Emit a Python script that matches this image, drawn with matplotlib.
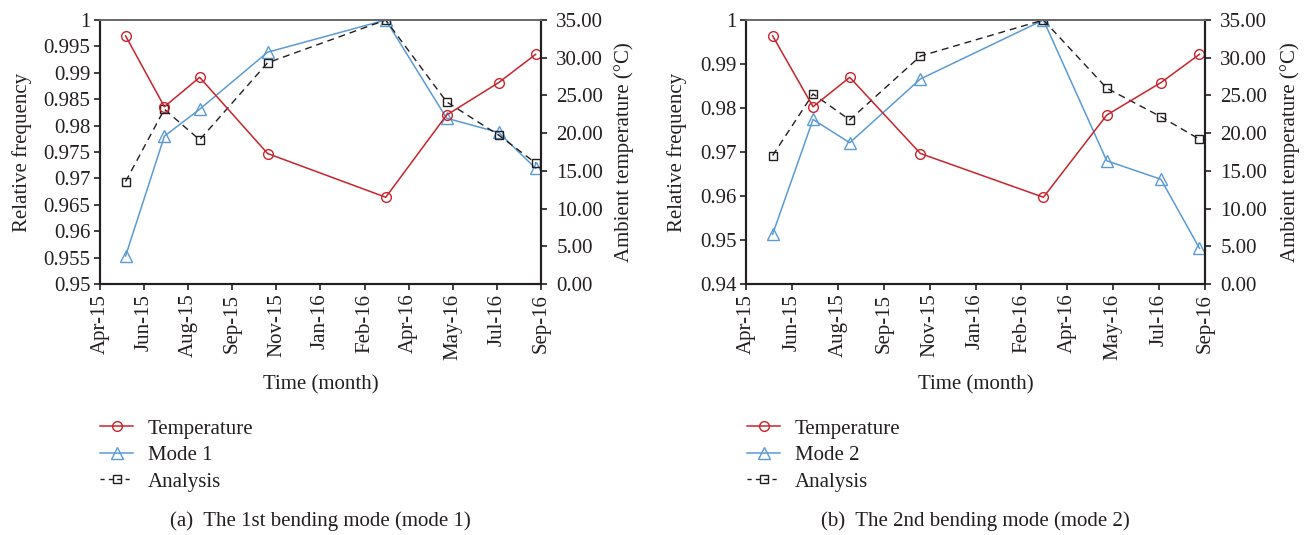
import datetime as dt
import matplotlib
matplotlib.use("Agg")
import matplotlib.pyplot as plt
import matplotlib.dates as mdates
from matplotlib.lines import Line2D
from matplotlib.ticker import FixedLocator, FuncFormatter

# ---- data -------------------------------------------------------------
dates = [dt.date(2015, 5, 25), dt.date(2015, 7, 8), dt.date(2015, 8, 17),
         dt.date(2015, 11, 2), dt.date(2016, 3, 15), dt.date(2016, 5, 23),
         dt.date(2016, 7, 21), dt.date(2016, 9, 1)]

temperature = [32.9, 23.5, 27.4, 17.3, 11.5, 22.4, 26.7, 30.45]

mode1 = [0.9553, 0.9780, 0.9831, 0.9939, 1.0000, 0.9814, 0.9787, 0.9719]
analysis1 = [0.9694, 0.9831, 0.9773, 0.9919, 1.0000, 0.9845, 0.9782, 0.9729]

mode2 = [0.9513, 0.9774, 0.9721, 0.9866, 1.0000, 0.9680, 0.9638, 0.9481]
analysis2 = [0.9692, 0.9832, 0.9773, 0.9918, 1.0000, 0.9845, 0.9780, 0.9729]

left_ticks1 = [0.95, 0.955, 0.96, 0.965, 0.97, 0.975, 0.98, 0.985, 0.99, 0.995, 1.0]
left_ticks2 = [0.94, 0.95, 0.96, 0.97, 0.98, 0.99, 1.0]
temp_ticks = [0, 5, 10, 15, 20, 25, 30, 35]

x_start = dt.date(2015, 4, 26)
x_end = dt.date(2016, 9, 7)
x_step_days = 50

# ---- style ------------------------------------------------------------
plt.rcParams["font.family"] = ["Liberation Serif", "DejaVu Serif"]
plt.rcParams["font.size"] = 15
TXT = "#231f20"
RED = "#c8242b"
BLUE = "#5b9bd5"
BLACK = "#231f20"

W, H = 1306, 535
fig = plt.figure(figsize=(W / 100, H / 100), dpi=100)


def px_axes(l, r, t, b):
    return fig.add_axes([l / W, 1 - b / H, (r - l) / W, (b - t) / H])


def fmt_general(v, pos):
    return f"{v:.3f}".rstrip("0").rstrip(".")


def build_panel(rect, mode_vals, ana_vals, lticks, mode_name, caption,
                ylab_left_x, ylab_right_x, leg_x):
    ax = px_axes(*rect)
    ax2 = ax.twinx()

    xticks = [mdates.date2num(x_start + dt.timedelta(days=x_step_days * i)) for i in range(11)]
    ax.set_xlim(mdates.date2num(x_start), mdates.date2num(x_end))
    ax.xaxis.set_major_locator(FixedLocator(xticks))
    ax.xaxis.set_major_formatter(mdates.DateFormatter("%b-%y"))
    for lab in ax.get_xticklabels():
        lab.set_rotation(90)

    ax.set_ylim(lticks[0], lticks[-1])
    ax.yaxis.set_major_locator(FixedLocator(lticks))
    ax.yaxis.set_major_formatter(FuncFormatter(fmt_general))

    ax2.set_ylim(0, 35)
    ax2.yaxis.set_major_locator(FixedLocator(temp_ticks))
    ax2.yaxis.set_major_formatter(FuncFormatter(lambda v, p: f"{v:.2f}"))

    xs = [mdates.date2num(d) for d in dates]
    ax.plot(xs, ana_vals, color=BLACK, lw=1.0, dashes=(5, 3.5), marker="s",
            ms=6, mfc="none", mec=BLACK, mew=1.0, zorder=3)
    ax.plot(xs, mode_vals, color=BLUE, lw=1.1, marker="^", ms=9,
            mfc="none", mec=BLUE, mew=1.0, zorder=2)
    ax2.plot(xs, temperature, color=RED, lw=1.1, marker="o", ms=7,
             mfc="none", mec=RED, mew=1.0)

    for a in (ax, ax2):
        a.tick_params(direction="out", length=4, width=1.2, colors=TXT,
                      labelsize=15, pad=3)
        for side in ("left", "right", "bottom"):
            a.spines[side].set_color(TXT)
            a.spines[side].set_linewidth(1.5)
        a.spines["top"].set_color("#6b6b6b")
        a.spines["top"].set_linewidth(1.4)
    ax.tick_params(axis="y", which="both", right=False)
    ax2.tick_params(axis="y", pad=7)
    ax2.tick_params(axis="x", which="both", bottom=False, top=False)

    ax.set_xlabel("Time (month)", color=TXT, fontsize=15)
    ax.set_ylabel("Relative frequency", color=TXT, fontsize=15)
    ax2.set_ylabel("Ambient temperature (°C)", color=TXT, fontsize=15)
    ax.xaxis.set_label_coords(0.5, -0.345)
    ax.yaxis.set_label_coords(ylab_left_x, 0.5)
    ax2.yaxis.set_label_coords(ylab_right_x, 0.5)

    handles = [
        Line2D([], [], color=RED, lw=1.1, marker="o", ms=7, mfc="none", mec=RED),
        Line2D([], [], color=BLUE, lw=1.1, marker="^", ms=9, mfc="none", mec=BLUE),
        Line2D([], [], color=BLACK, lw=1.0, dashes=(3, 3), marker="s", ms=6,
               mfc="none", mec=BLACK),
    ]
    fig.legend(handles, ["Temperature", mode_name, "Analysis"],
               loc="upper left", bbox_to_anchor=(leg_x / W, 1 - 419 / H),
               frameon=False, borderpad=0, borderaxespad=0,
               handlelength=1.6, handletextpad=0.7, labelspacing=0.33,
               fontsize=15, labelcolor=TXT)

    cx = (rect[0] + rect[1]) / 2
    fig.text(cx / W, 1 - 521 / H, caption, ha="center", va="center",
             fontsize=15, color=TXT)


build_panel((100, 541, 20, 284), mode1, analysis1, left_ticks1, "Mode 1",
            "(a)  The 1st bending mode (mode 1)", -0.155, 1.165, 100)
build_panel((746, 1205, 20, 284), mode2, analysis2, left_ticks2, "Mode 2",
            "(b)  The 2nd bending mode (mode 2)", -0.128, 1.163, 747)

fig.savefig("out.png", dpi=100)
